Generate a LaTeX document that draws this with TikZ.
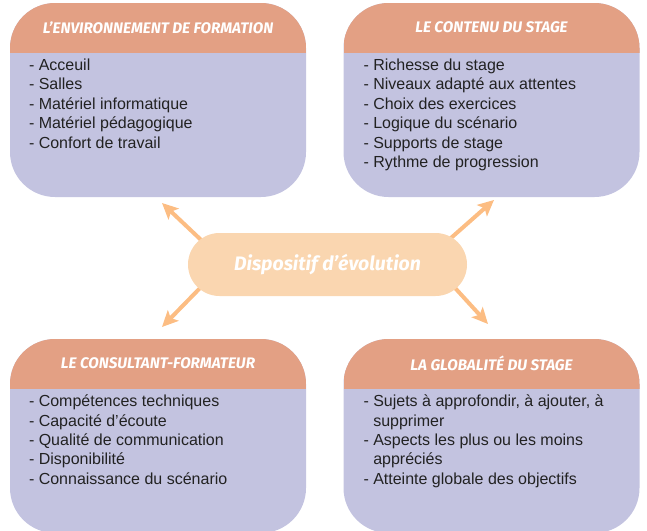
\documentclass[tikz,border=0pt]{standalone}
\usepackage{fontspec}
\setmainfont{Liberation Sans}
\newfontfamily\headfont{Fira Sans}
\usetikzlibrary{arrows.meta, positioning, backgrounds, calc}
\definecolor{headcol}{HTML}{E3A084}
\definecolor{bodycol}{HTML}{C3C3E0}
\definecolor{pillcol}{HTML}{FAD6B0}
\definecolor{arrowcol}{HTML}{FCBD83}
\definecolor{textcol}{HTML}{222222}
\begin{document}
\begin{tikzpicture}[x=1pt, y=-1pt,
    box/.style={rectangle, rounded corners=45pt, fill=bodycol, minimum width=296pt, minimum height=194pt, inner sep=0pt,
        path picture={\fill[headcol, sharp corners] (path picture bounding box.north west) rectangle ([yshift=-49.5pt]path picture bounding box.north east);}},
    title/.style={font=\headfont\bfseries\itshape\fontsize{15.3}{18}\selectfont, text=white},
    items/.style={anchor=north west, inner sep=0pt, align=left, text=textcol, font=\fontsize{16}{19.4}\selectfont},
    pill/.style={rectangle, rounded corners=31.5pt, fill=pillcol, minimum width=279pt, minimum height=63pt, font=\headfont\bfseries\itshape\fontsize{19.5}{22}\selectfont, text=white},
    arrow/.style={-{Stealth[length=16pt, width=15pt, inset=3.5pt]}, line width=4pt, draw=arrowcol}
]
    \useasboundingbox (0,0) rectangle (647,530);

    % the four boxes
    \node[box] (env) at (158,100) {};
    \node[box] (contenu) at (491.5,100) {};
    \node[box] (consult) at (158,436) {};
    \node[box] (global) at (491.5,436) {};

    \node[title] at ([yshift=-24.5pt]env.north) {L’ENVIRONNEMENT DE FORMATION};
    \node[title] at ([yshift=-24.5pt]contenu.north) {LE CONTENU DU STAGE};
    \node[title] at ([yshift=-24.5pt]consult.north) {LE CONSULTANT-FORMATEUR};
    \node[title] at ([yshift=-24.5pt]global.north) {LA GLOBALITÉ DU STAGE};

    \node[items] (envlist) at ([shift={(19pt,-56pt)}]env.north west)
        {- Acceuil\\- Salles\\- Matériel informatique\\- Matériel pédagogique\\- Confort de travail};
    \node[items] (contenulist) at ([shift={(20pt,-56pt)}]contenu.north west)
        {- Richesse du stage\\- Niveaux adapté aux attentes\\- Choix des exercices\\- Logique du scénario\\- Supports de stage\\- Rythme de progression};
    \node[items] (consultlist) at ([shift={(19pt,-56pt)}]consult.north west)
        {- Compétences techniques\\- Capacité d’écoute\\- Qualité de communication\\- Disponibilité\\- Connaissance du scénario};
    \node[items] (globallist) at ([shift={(20pt,-56pt)}]global.north west)
        {- Sujets à approfondir, à ajouter, à\\\hphantom{- }supprimer\\- Aspects les plus ou les moins\\\hphantom{- }appréciés\\- Atteinte globale des objectifs};

    % centre
    \node[pill] (pill) at (327.5,264.5) {Dispositif d’évolution};

    \coordinate (tipenv) at (162,203);
    \coordinate (tipcontenu) at (494,200);
    \coordinate (tipconsult) at (162,327);
    \coordinate (tipglobal) at (488,324);

    \begin{scope}[on background layer]
        \draw[arrow] ([xshift=26pt, yshift=12.5pt]pill.west) -- (tipenv);
        \draw[arrow] ([xshift=-27pt, yshift=17pt]pill.east) -- (tipcontenu);
        \draw[arrow] ([xshift=24pt, yshift=-11.5pt]pill.west) -- (tipconsult);
        \draw[arrow] ([xshift=-24pt, yshift=-10.5pt]pill.east) -- (tipglobal);
    \end{scope}
\end{tikzpicture}
\end{document}
